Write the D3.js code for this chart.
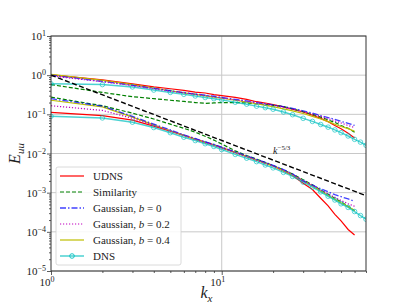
<!DOCTYPE html>
<html>
<head>
<meta charset="utf-8">
<script src="https://cdn.jsdelivr.net/npm/d3@7"></script>
<style>
  body { margin: 0; background: #fff; }
  svg { display: block; }
  text { font-family: "Liberation Serif", "DejaVu Serif", serif; fill: #222; }
</style>
</head>
<body>
<div id="chart"></div>
<script>
// wavenumbers
var kx = [1,2,3,4,5,6,7,8,9,10,12,14,16,18,20,23,26,30,34,38,42,46,50,55,60];
var kxDns = kx.concat([65,70]);

// upper spectra
var udnsHi  = [1.02,0.76,0.60,0.50,0.45,0.41,0.37,0.35,0.32,0.30,0.27,0.24,0.21,0.195,0.178,0.155,0.135,0.115,0.095,0.079,0.065,0.052,0.043,0.033,0.025];
var simHi   = [0.575,0.363,0.282,0.251,0.229,0.214,0.200,0.191,0.195,0.200,0.200,0.195,0.186,0.178,0.170,0.158,0.138,0.117,0.100,0.085,0.072,0.062,0.052,0.044,0.035];
var gau0Hi  = [1.0,0.69,0.55,0.46,0.40,0.36,0.33,0.31,0.29,0.27,0.24,0.22,0.20,0.186,0.174,0.158,0.141,0.123,0.107,0.093,0.083,0.074,0.066,0.059,0.052];
var gau2Hi  = [0.955,0.68,0.54,0.45,0.39,0.355,0.324,0.30,0.28,0.263,0.234,0.214,0.195,0.182,0.170,0.151,0.135,0.117,0.102,0.089,0.078,0.068,0.060,0.052,0.046];
var gau4Hi  = [1.05,0.74,0.575,0.47,0.40,0.355,0.324,0.295,0.275,0.257,0.229,0.204,0.186,0.170,0.158,0.138,0.123,0.105,0.089,0.076,0.065,0.056,0.049,0.043,0.037];
var dnsHi   = [0.603,0.575,0.501,0.417,0.363,0.324,0.295,0.269,0.251,0.234,0.204,0.182,0.162,0.148,0.135,0.115,0.098,0.079,0.066,0.055,0.047,0.040,0.034,0.028,0.023,0.0195,0.0162];

// lower spectra
var udnsLo  = [0.112,0.093,0.071,0.050,0.037,0.029,0.0234,0.0195,0.0166,0.0141,0.0107,0.0085,0.0069,0.0058,0.0048,0.0036,0.00275,0.00174,0.0012,0.00072,0.00046,0.00028,0.00019,0.000115,0.000083];
var simLo   = [0.275,0.166,0.107,0.076,0.056,0.044,0.035,0.0275,0.022,0.0174,0.0117,0.0089,0.0072,0.0059,0.0049,0.0038,0.0030,0.00214,0.00158,0.00117,0.00091,0.00072,0.00058,0.00045,0.00035];
var gau0Lo  = [0.251,0.162,0.089,0.056,0.040,0.030,0.024,0.020,0.017,0.0145,0.011,0.0087,0.0071,0.0059,0.0050,0.0039,0.0030,0.0020,0.00155,0.00126,0.00105,0.00089,0.00079,0.00069,0.0006];
var gau2Lo  = [0.166,0.126,0.079,0.052,0.038,0.029,0.023,0.019,0.0162,0.0138,0.0105,0.0083,0.0068,0.0056,0.0048,0.0037,0.0029,0.0020,0.00155,0.00117,0.00093,0.00076,0.00063,0.00052,0.00045];
var gau4Lo  = [0.229,0.155,0.085,0.054,0.038,0.029,0.023,0.019,0.0162,0.0138,0.0105,0.0083,0.0068,0.0056,0.0048,0.0036,0.0028,0.0020,0.00148,0.0011,0.00085,0.00068,0.00055,0.00044,0.00035];
var dnsLo   = [0.089,0.081,0.063,0.046,0.034,0.026,0.0214,0.0178,0.0151,0.0126,0.0095,0.0076,0.0062,0.0051,0.0043,0.0033,0.0026,0.00186,0.00138,0.00105,0.00081,0.00065,0.00052,0.00042,0.00033,0.00026,0.00021];

// k^-5/3 reference line
var refK = [1, 70];
var refE = [1, 0.00084];

// ticks
var xMajor = [1, 10];
var xMinor = [2,3,4,5,6,7,8,9,20,30,40,50,60,70];
var yMajorExp = [1, 0, -1, -2, -3, -4, -5];

var legendNames = ["UDNS", "Similarity", "Gaussian, b = 0", "Gaussian, b = 0.2", "Gaussian, b = 0.4", "DNS"];

// set the dimensions and margins of the graph
var W = 407, H = 305;
var margin = {top: 36, right: 41, bottom: 34, left: 51},
    width = W - margin.left - margin.right,
    height = H - margin.top - margin.bottom;

var x = d3.scaleLog().domain([1, 70]).range([0, width]);
var y = d3.scaleLog().domain([1e-5, 10]).range([height, 0]);

var svg = d3.select("#chart").append("svg")
    .attr("width", W)
    .attr("height", H);
var g = svg.append("g")
    .attr("transform", "translate(" + margin.left + "," + margin.top + ")");

g.append("clipPath").attr("id", "clip")
  .append("rect").attr("width", width).attr("height", height);

// grid
g.append("g")
    .selectAll("line.gy")
    .data(yMajorExp)
  .enter().append("line")
    .attr("x1", 0).attr("x2", width)
    .attr("y1", function(d) { return y(Math.pow(10, d)); })
    .attr("y2", function(d) { return y(Math.pow(10, d)); })
    .style("stroke", "#c8c8c8").style("stroke-width", 1);
g.append("line")
    .attr("x1", x(10)).attr("x2", x(10))
    .attr("y1", 0).attr("y2", height)
    .style("stroke", "#c8c8c8").style("stroke-width", 1);

// styles
var styles = {
  udns: {color: "#ff0000", dash: null, width: 1.2, op: 1},
  sim:  {color: "#008000", dash: "4,2", width: 1.2, op: 1},
  gau0: {color: "#0000ff", dash: "6,2,1.5,2", width: 1.3, op: 0.75},
  gau2: {color: "#bf00bf", dash: "1.2,1.8", width: 1.2, op: 1},
  gau4: {color: "#bfbf00", dash: null, width: 1.2, op: 1},
  dns:  {color: "#00bfbf", dash: null, width: 1.5, op: 0.7}
};

var series = [
  {k: kx, e: udnsHi, s: styles.udns}, {k: kx, e: udnsLo, s: styles.udns},
  {k: kx, e: simHi, s: styles.sim},   {k: kx, e: simLo, s: styles.sim},
  {k: kx, e: gau4Hi, s: styles.gau4}, {k: kx, e: gau4Lo, s: styles.gau4},
  {k: kxDns, e: dnsHi, s: styles.dns, marker: true}, {k: kxDns, e: dnsLo, s: styles.dns, marker: true},
  {k: kx, e: gau0Hi, s: styles.gau0}, {k: kx, e: gau0Lo, s: styles.gau0},
  {k: kx, e: gau2Hi, s: styles.gau2}, {k: kx, e: gau2Lo, s: styles.gau2}
];

var line = d3.line()
    .x(function(d) { return x(d[0]); })
    .y(function(d) { return y(d[1]); });

var plot = g.append("g").attr("clip-path", "url(#clip)");

series.forEach(function(sr) {
  var pts = sr.k.map(function(k, i) { return [k, sr.e[i]]; });
  plot.append("path")
      .datum(pts)
      .attr("d", line)
      .style("fill", "none")
      .style("stroke", sr.s.color)
      .style("stroke-width", sr.s.width)
      .style("stroke-opacity", sr.s.op)
      .style("stroke-dasharray", sr.s.dash);
  if (sr.marker) {
    plot.selectAll(null)
        .data(pts)
      .enter().append("circle")
        .attr("cx", function(d) { return x(d[0]); })
        .attr("cy", function(d) { return y(d[1]); })
        .attr("r", 2.3)
        .style("fill", "none")
        .style("stroke", sr.s.color)
        .style("stroke-opacity", 0.7)
        .style("stroke-width", 0.9);
  }
});

// reference line
plot.append("path")
    .datum(refK.map(function(k, i) { return [k, refE[i]]; }))
    .attr("d", line)
    .style("fill", "none")
    .style("stroke", "#000")
    .style("stroke-width", 1.4)
    .style("stroke-dasharray", "5,2.5");

var refLbl = g.append("text")
    .attr("x", 222)
    .attr("y", 118)
    .style("font-size", "10px");
refLbl.append("tspan").style("font-style", "italic").text("k");
refLbl.append("tspan").attr("dy", -4).style("font-size", "7px").text("\u22125/3");

// axes: tick marks
var yMinor = [];
yMajorExp.forEach(function(e) {
  if (e < 1) for (var m = 2; m < 10; m++) yMinor.push(m * Math.pow(10, e));
});
g.append("g")
    .attr("transform", "translate(0," + height + ")")
    .call(d3.axisBottom(x).tickValues(xMajor).tickSize(4).tickFormat(""));
g.append("g")
    .attr("transform", "translate(0," + height + ")")
    .call(d3.axisBottom(x).tickValues(xMinor).tickSize(2).tickFormat(""));
g.append("g")
    .call(d3.axisLeft(y).tickValues(yMajorExp.map(function(e) { return Math.pow(10, e); })).tickSize(4).tickFormat(""));
g.append("g")
    .call(d3.axisLeft(y).tickValues(yMinor).tickSize(2).tickFormat(""));
g.selectAll(".domain").remove();
g.selectAll(".tick line").style("stroke", "#333").style("stroke-width", 0.8);

// frame
g.append("rect")
    .attr("width", width).attr("height", height)
    .style("fill", "none").style("stroke", "#333").style("stroke-width", 1);

// tick labels
xMajor.forEach(function(v) {
  var t = g.append("text")
      .attr("x", x(v) - 4)
      .attr("y", height + 15)
      .attr("text-anchor", "middle")
      .style("font-size", "11px");
  t.append("tspan").text("10");
  t.append("tspan").attr("dy", -4).style("font-size", "8px").text(Math.round(Math.log10(v)));
});
yMajorExp.forEach(function(e) {
  var t = g.append("text")
      .attr("x", -5)
      .attr("y", y(Math.pow(10, e)) + 4)
      .attr("text-anchor", "end")
      .style("font-size", "11px");
  t.append("tspan").text("10");
  t.append("tspan").attr("dy", -4).style("font-size", "8px").text(e < 0 ? "\u2212" + (-e) : e);
});

// axis labels
var xl = svg.append("text")
    .attr("x", margin.left + width / 2 - 2)
    .attr("y", 298)
    .attr("text-anchor", "middle")
    .style("font-size", "16px");
xl.append("tspan").style("font-style", "italic").text("k");
xl.append("tspan").attr("dy", 4).style("font-size", "11px").style("font-style", "italic").text("x");

var yl = svg.append("text")
    .attr("transform", "translate(20," + (margin.top + height / 2) + ") rotate(-90)")
    .attr("text-anchor", "middle")
    .style("font-size", "16px");
yl.append("tspan").style("font-style", "italic").text("E");
yl.append("tspan").attr("dy", 4).style("font-size", "11px").style("font-style", "italic").text("uu");

// legend
var leg = g.append("g").attr("transform", "translate(5,131)");
leg.append("rect")
    .attr("width", 125).attr("height", 98)
    .attr("rx", 2)
    .style("fill", "#fff").style("fill-opacity", 0.85)
    .style("stroke", "#d0d0d0").style("stroke-width", 0.8);
var legStyles = [styles.udns, styles.sim, styles.gau0, styles.gau2, styles.gau4, styles.dns];
legendNames.forEach(function(name, i) {
  var yy = 9 + i * 16;
  var s = legStyles[i];
  leg.append("line")
      .attr("x1", 4).attr("x2", 28)
      .attr("y1", yy).attr("y2", yy)
      .style("stroke", s.color).style("stroke-width", s.width)
      .style("stroke-opacity", s.op)
      .style("stroke-dasharray", s.dash);
  if (i === 5) {
    leg.append("circle").attr("cx", 16).attr("cy", yy).attr("r", 2.3)
        .style("fill", "none").style("stroke", s.color).style("stroke-width", 0.9);
  }
  var t = leg.append("text")
      .attr("x", 37).attr("y", yy + 4)
      .style("font-size", "11px");
  var parts = name.split(" b ");
  if (parts.length === 2) {
    t.append("tspan").text(parts[0] + " ");
    t.append("tspan").style("font-style", "italic").text("b");
    t.append("tspan").text(" " + parts[1]);
  } else {
    t.text(name);
  }
});
</script>
</body>
</html>
